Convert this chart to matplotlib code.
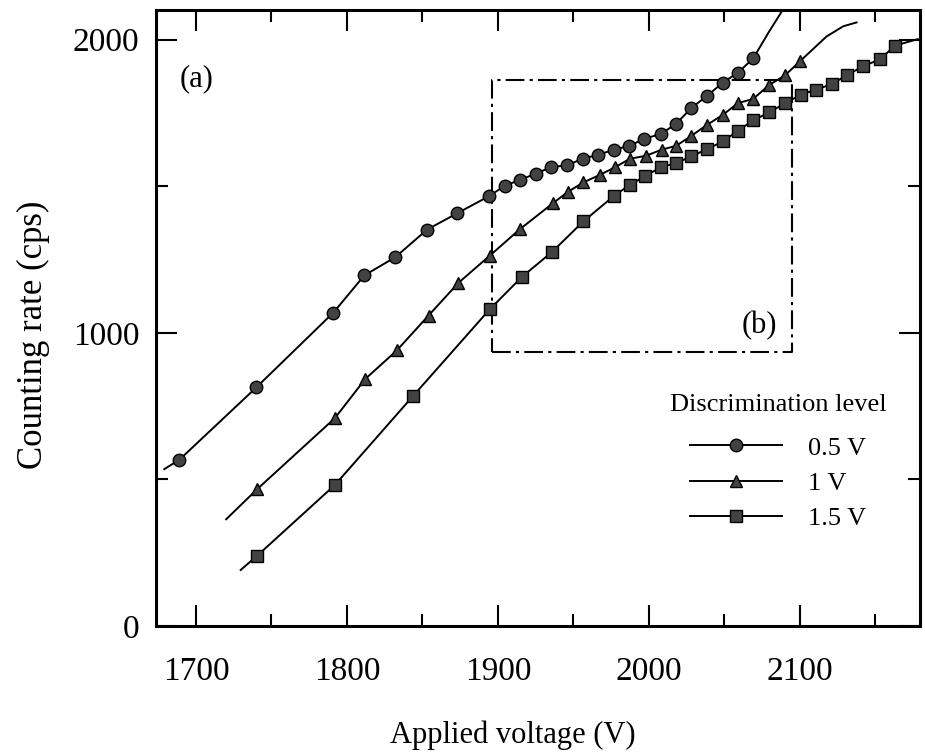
import matplotlib
matplotlib.use("Agg")
import matplotlib.pyplot as plt
from matplotlib.ticker import MultipleLocator

plt.rcParams['font.family'] = ['Liberation Serif', 'DejaVu Serif']

# 0.5 V discrimination level (circles)
v05 = [1689, 1740, 1791, 1811.5, 1832, 1853, 1873, 1894, 1904.6, 1914.6, 1925, 1935,
       1946, 1956, 1966, 1977, 1987, 1997, 2008, 2018, 2028, 2038.6, 2049, 2059, 2069]
c05 = [567, 814, 1069, 1196, 1258, 1352, 1408, 1466, 1502, 1522, 1543, 1565,
       1572, 1594, 1607, 1625, 1638, 1662, 1679, 1713, 1767, 1809, 1854, 1888, 1936]
# fitted curve ends beyond the measured points
v05_lo, c05_lo = [1679], [535]
v05_hi, c05_hi = [2079, 2089], [2023, 2105]

# 1 V (triangles)
v10 = [1740.6, 1792, 1812, 1833, 1854, 1873.7, 1894.5, 1914.6, 1936.6, 1946.6, 1956.5,
       1967.5, 1977.5, 1987.4, 1998, 2008.4, 2018, 2028, 2038.6, 2049, 2059, 2069,
       2079.7, 2090, 2100.3]
c10 = [467, 709, 842, 940, 1059, 1170, 1263, 1354, 1443, 1482, 1513,
       1539, 1565, 1594, 1604, 1625, 1638, 1672, 1710, 1744, 1784, 1798,
       1846, 1878, 1928]
v10_lo, c10_lo = [1720], [364]
v10_hi, c10_hi = [2117.6, 2128.7, 2137.5], [2011, 2046, 2059]

# 1.5 V (squares)
v15 = [1740.6, 1792, 1843.5, 1894.5, 1915.7, 1936, 1956.5, 1977, 1987.4, 1997.4, 2007.7,
       2018, 2028, 2038.6, 2049, 2059, 2069, 2079.7, 2090, 2100.5, 2110.6, 2121,
       2131, 2142, 2153, 2163]
c15 = [240, 481, 783, 1080, 1190, 1277, 1380, 1468, 1505, 1534, 1565,
       1579, 1602, 1627, 1653, 1690, 1725, 1752, 1783, 1812, 1830, 1848,
       1879, 1910, 1933, 1980]
v15_lo, c15_lo = [1729.6], [191]
v15_hi, c15_hi = [2178], [2002]

labels = ["0.5 V", "1 V", "1.5 V"]
markers = ["o", "^", "s"]

# region (b)
box_v = [1896, 2094.5]
box_c = [933, 1861]

fig = plt.figure(figsize=(9.25, 7.56), dpi=100)
ax = fig.add_axes([0.1686, 0.172, 0.8260, 0.815])

series = [
    (v05, c05, v05_lo, c05_lo, v05_hi, c05_hi),
    (v10, c10, v10_lo, c10_lo, v10_hi, c10_hi),
    (v15, c15, v15_lo, c15_lo, v15_hi, c15_hi),
]
for (vx, cy, vlo, clo, vhi, chi), lab, mk in zip(series, labels, markers):
    ax.plot(vlo + vx + vhi, clo + cy + chi, color='black', lw=1.4, zorder=2)
    ax.plot(vx, cy, linestyle='none', marker=mk, ms=9, mfc='#424242',
            mec='black', mew=1.0, zorder=3)
    ax.plot([], [], color='black', lw=1.4, marker=mk, ms=9, mfc='#424242',
            mec='black', mew=1.0, label=lab)

bx = [box_v[0], box_v[1], box_v[1], box_v[0], box_v[0]]
by = [box_c[0], box_c[0], box_c[1], box_c[1], box_c[0]]
ax.plot(bx, by, color='black', lw=1.5, dashes=(9, 2.5, 1.5, 2.5), zorder=1)

ax.text(1689.4, 1867, "(a)", fontsize=22, ha='left', va='center')
ax.text(2061.6, 1024, "(b)", fontsize=22, ha='left', va='center')

ax.set_xlim(1673.5, 2179.5)
ax.set_ylim(0, 2102)
ax.xaxis.set_major_locator(MultipleLocator(100))
ax.xaxis.set_minor_locator(MultipleLocator(50))
ax.yaxis.set_major_locator(MultipleLocator(1000))
ax.yaxis.set_minor_locator(MultipleLocator(500))
ax.tick_params(which='both', direction='in', top=True, right=True, width=1.5,
               labelsize=24)
ax.tick_params(which='major', length=15)
ax.tick_params(which='minor', length=8.5)
ax.tick_params(axis='x', which='major', pad=22)
ax.tick_params(axis='y', which='major', pad=12)
for s in ax.spines.values():
    s.set_linewidth(2.2)

ax.set_xlabel("Applied voltage (V)", fontsize=22, labelpad=24, x=0.467)
ax.set_ylabel("Counting rate (cps)", fontsize=25, labelpad=16, y=0.472)

leg = ax.legend(title="Discrimination level", loc='center',
                bbox_to_anchor=(0.8145, 0.266), frameon=False, fontsize=19,
                title_fontsize=19, handlelength=3.45, handletextpad=1.0,
                labelspacing=0.45, borderpad=0, numpoints=1)
leg._legend_box.sep = 19 * 0.45 + 6

fig.savefig("out.png", dpi=100)
